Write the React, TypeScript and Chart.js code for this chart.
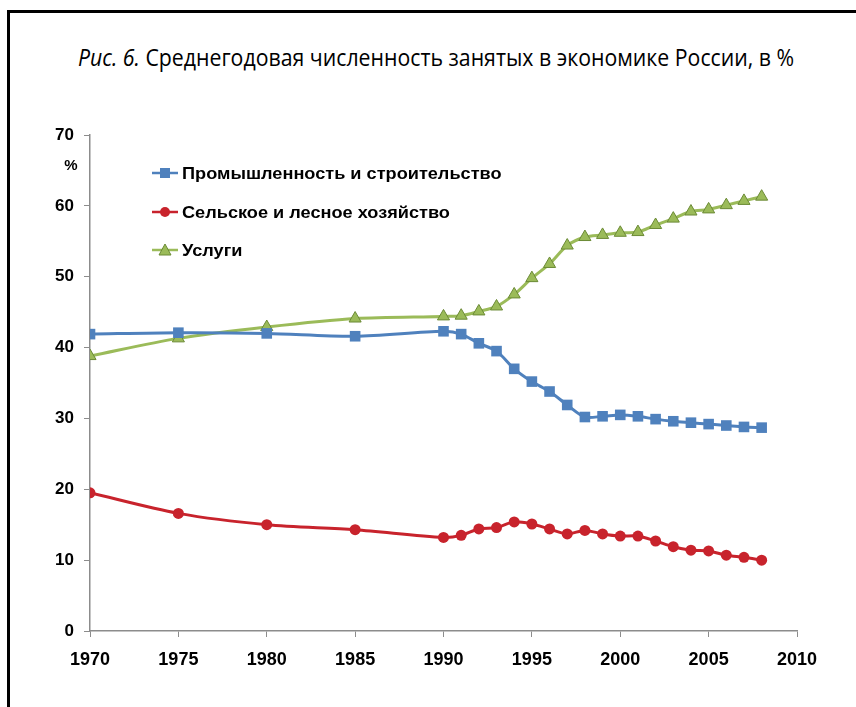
import React, { useEffect, useRef } from "react";
import { Chart, registerables } from "chart.js";

Chart.register(...registerables);

const years = [1970, 1975, 1980, 1985, 1990, 1991, 1992, 1993, 1994, 1995, 1996, 1997, 1998, 1999, 2000, 2001, 2002, 2003, 2004, 2005, 2006, 2007, 2008];
const industry = [41.9, 42.1, 42.0, 41.6, 42.3, 41.9, 40.6, 39.5, 37.0, 35.2, 33.8, 31.9, 30.2, 30.3, 30.5, 30.3, 29.9, 29.6, 29.4, 29.2, 29.0, 28.8, 28.7];
const agriculture = [19.5, 16.6, 15.0, 14.3, 13.2, 13.5, 14.4, 14.6, 15.4, 15.1, 14.4, 13.7, 14.2, 13.7, 13.4, 13.4, 12.7, 11.9, 11.4, 11.3, 10.7, 10.4, 10.0];
const services = [38.8, 41.3, 42.9, 44.1, 44.4, 44.5, 45.1, 45.8, 47.5, 49.8, 51.8, 54.4, 55.6, 55.9, 56.2, 56.3, 57.3, 58.2, 59.2, 59.5, 60.1, 60.7, 61.3];
const seriesNames = ["Промышленность и строительство", "Сельское и лесное хозяйство", "Услуги"];
const yTicks = [0, 10, 20, 30, 40, 50, 60, 70];
const xTicks = [1970, 1975, 1980, 1985, 1990, 1995, 2000, 2005, 2010];

const BLUE = "#4F81BD";
const RED = "#C8232C";
const GREEN_LINE = "#9BBB59";
const GREEN_FILL = "#9BBB59";
const GREEN_EDGE = "#6B8A35";

const FONT = "'Liberation Sans', Arial, sans-serif";

export default function App() {
  const ref = useRef<HTMLCanvasElement | null>(null);
  useEffect(() => {
    if (!ref.current) return;
    const mk = (vals: number[]) => years.map((y, i) => ({ x: y, y: vals[i] }));
    const legendPlugin = {
      id: "customLegend",
      afterDraw(chart: any) {
        const ctx = chart.ctx;
        ctx.save();
        const items = [
          { color: BLUE, style: "rect", fill: BLUE, edge: BLUE },
          { color: RED, style: "circle", fill: RED, edge: RED },
          { color: GREEN_LINE, style: "triangle", fill: GREEN_FILL, edge: GREEN_EDGE },
        ];
        const ys = [173, 212, 250];
        items.forEach((it, i) => {
          const y = ys[i];
          ctx.strokeStyle = it.color;
          ctx.lineWidth = 2.5;
          ctx.beginPath();
          ctx.moveTo(152, y);
          ctx.lineTo(178, y);
          ctx.stroke();
          ctx.fillStyle = it.fill;
          ctx.strokeStyle = it.edge;
          ctx.lineWidth = 1;
          ctx.beginPath();
          if (it.style === "rect") {
            ctx.rect(160, y - 5, 10, 10);
            ctx.fill();
          } else if (it.style === "circle") {
            ctx.arc(165, y, 5, 0, Math.PI * 2);
            ctx.fill();
          } else {
            ctx.moveTo(165, y - 6);
            ctx.lineTo(171, y + 5);
            ctx.lineTo(159, y + 5);
            ctx.closePath();
            ctx.fill();
            ctx.stroke();
          }
          ctx.save();
          ctx.fillStyle = "#000";
          ctx.font = `bold 16.5px ${FONT}`;
          ctx.textBaseline = "middle";
          ctx.textAlign = "left";
          ctx.translate(182, y + 1);
          ctx.scale(1.1, 1);
          ctx.fillText(seriesNames[i], 0, 0);
          ctx.restore();
        });
        ctx.font = `bold 15px ${FONT}`;
        ctx.fillStyle = "#000";
        ctx.textAlign = "center";
        ctx.textBaseline = "middle";
        ctx.fillText("%", 71, 166);
        ctx.restore();
      },
    };
    const chart = new Chart(ref.current, {
      type: "line",
      data: {
        datasets: [
          {
            label: seriesNames[0],
            data: mk(industry),
            borderColor: BLUE,
            backgroundColor: BLUE,
            borderWidth: 3,
            pointStyle: "rect",
            pointRadius: 7.5,
            pointBorderWidth: 0,
            tension: 0.3,
          },
          {
            label: seriesNames[1],
            data: mk(agriculture),
            borderColor: RED,
            backgroundColor: RED,
            borderWidth: 3,
            pointStyle: "circle",
            pointRadius: 5.5,
            pointBorderWidth: 0,
            tension: 0.3,
          },
          {
            label: seriesNames[2],
            data: mk(services),
            borderColor: GREEN_LINE,
            backgroundColor: GREEN_FILL,
            pointBorderColor: GREEN_EDGE,
            borderWidth: 3,
            pointStyle: "triangle",
            pointRadius: 7,
            pointBorderWidth: 1,
            tension: 0.3,
          },
        ],
      },
      options: {
        animation: false,
        responsive: false,
        events: [],
        layout: { padding: { left: 40, right: 59, top: 135, bottom: 36 } },
        plugins: { legend: { display: false }, tooltip: { enabled: false } },
        scales: {
          x: {
            type: "linear",
            min: 1970,
            max: 2010,
            afterBuildTicks: (s: any) => {
              s.ticks = xTicks.map((v) => ({ value: v }));
            },
            afterFit: (s: any) => {
              s.height = 40;
            },
            grid: { drawOnChartArea: false, drawTicks: true, tickLength: 6, color: "#8c8c8c" },
            border: { color: "#8c8c8c", width: 1.5 },
            ticks: {
              color: "#000",
              padding: 12,
              maxRotation: 0,
              font: { family: FONT, size: 18, weight: "bold" },
              callback: (v: any) => String(v),
            },
          },
          y: {
            min: 0,
            max: 70,
            afterBuildTicks: (s: any) => {
              s.ticks = yTicks.map((v) => ({ value: v }));
            },
            afterFit: (s: any) => {
              s.width = 50;
            },
            grid: { drawOnChartArea: false, drawTicks: true, tickLength: 6, color: "#8c8c8c" },
            border: { color: "#8c8c8c", width: 1.5 },
            ticks: {
              color: "#000",
              padding: 10,
              font: { family: FONT, size: 17, weight: "bold" },
            },
          },
        },
      },
      plugins: [legendPlugin],
    });
    return () => chart.destroy();
  }, []);

  return (
    <div style={{ position: "fixed", left: 0, top: 0, width: 856, height: 707, background: "#fff", overflow: "hidden" }}>
      <div
        style={{
          position: "absolute",
          left: 7,
          top: 10,
          width: 900,
          height: 800,
          borderTop: "3px solid #000",
          borderLeft: "3px solid #000",
          boxSizing: "border-box",
        }}
      />
      <div
        style={{
          position: "absolute",
          left: 8,
          width: 856,
          top: 41,
          textAlign: "center",
          fontFamily: "'Open Sans', sans-serif",
          fontSize: 23,
          color: "#000",
          whiteSpace: "nowrap",
        }}
      >
        <span style={{ display: "inline-block", transform: "scaleX(0.925)" }}>
          <i>Рис. 6.</i> Среднегодовая численность занятых в экономике России, в %
        </span>
      </div>
      <canvas ref={ref} width={856} height={707} style={{ position: "absolute", left: 0, top: 0 }} />
    </div>
  );
}
